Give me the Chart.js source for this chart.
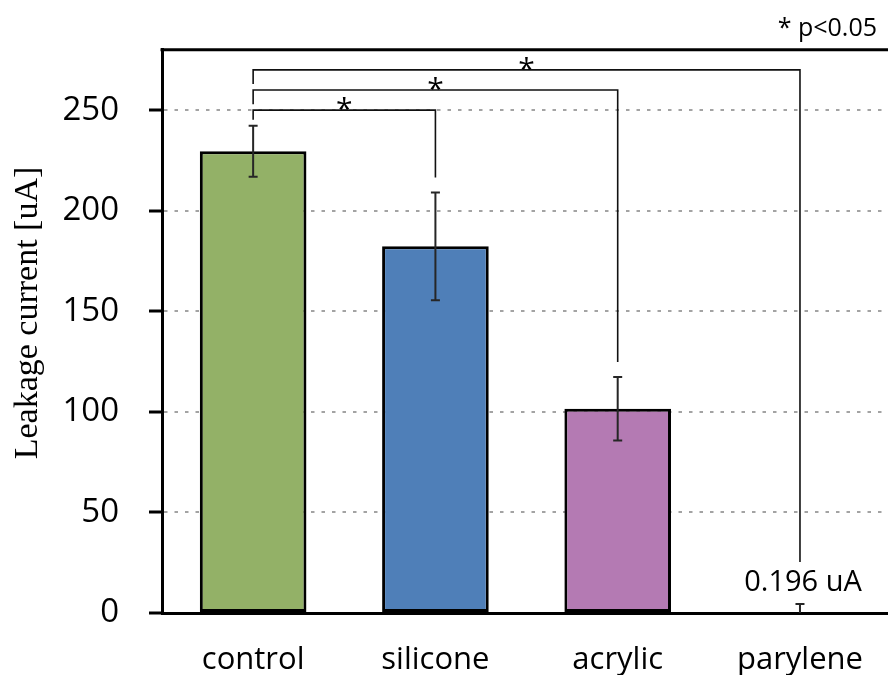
<!DOCTYPE html>
<html>
<head>
<meta charset="utf-8">
<script src="https://cdn.jsdelivr.net/npm/chart.js@4/dist/chart.umd.min.js"></script>
<style>
  html, body { margin: 0; padding: 0; overflow: hidden; background: #fff; }
  #wrap { width: 892px; height: 675px; }
</style>
</head>
<body>
<div id="wrap"><canvas id="c" width="892" height="675"></canvas></div>
<script>
// Leakage current per coating, mean and standard deviation [uA]
const categories = ['control', 'silicone', 'acrylic', 'parylene'];
const leakage = [229.6, 182.3, 101.5, 0.196];
const errors = [12.7, 26.8, 15.8, 4.3];
const barColors = ['#93b167', '#4f7fb8', '#b47ab3', '#9a9a9a'];
const yTicks = [0, 50, 100, 150, 200, 250];

// Significance comparisons (p<0.05): bar pairs and bracket level [uA]
const compFrom = [0, 0, 0];
const compTo = [1, 2, 3];
const compLevel = [250, 260, 270];

const noteIndex = 3;
const noteText = '0.196 uA';
const sigText = '* p<0.05';
const yTitle = 'Leakage current [uA]';

const SANS = '"Open Sans", "DejaVu Sans", sans-serif';
const SERIF = '"Liberation Serif", "DejaVu Serif", serif';

const overlay = {
  id: 'overlay',
  afterDatasetsDraw(chart) {
    const { ctx, chartArea: a, scales: { x, y } } = chart;
    ctx.save();

    // frame line along the top of the plot
    ctx.strokeStyle = '#000';
    ctx.lineWidth = 3;
    ctx.beginPath();
    ctx.moveTo(a.left - 1.5, a.top);
    ctx.lineTo(chart.width, a.top);
    ctx.stroke();

    // error bars
    const errTop = [];
    ctx.strokeStyle = '#262626';
    ctx.lineWidth = 2;
    leakage.forEach((v, i) => {
      const cx = x.getPixelForValue(i);
      const hi = y.getPixelForValue(v + errors[i]);
      const lowVal = v - errors[i];
      const lo = y.getPixelForValue(Math.max(0, lowVal));
      errTop.push(hi);
      ctx.beginPath();
      ctx.moveTo(cx, hi); ctx.lineTo(cx, lo);
      ctx.moveTo(cx - 4.5, hi); ctx.lineTo(cx + 4.5, hi);
      if (lowVal > 0) { ctx.moveTo(cx - 4.5, lo); ctx.lineTo(cx + 4.5, lo); }
      ctx.stroke();
    });

    // value note above the smallest bar
    const noteX = x.getPixelForValue(noteIndex) + 3;
    const noteBase = errTop[noteIndex] - 13;
    ctx.fillStyle = '#000';
    ctx.font = '29px ' + SANS;
    ctx.textAlign = 'center';
    ctx.textBaseline = 'alphabetic';
    ctx.fillText(noteText, noteX, noteBase);

    // significance brackets
    ctx.strokeStyle = '#111';
    ctx.lineWidth = 1.6;
    const levelsPx = compLevel.map(l => y.getPixelForValue(l));
    compLevel.forEach((lvl, k) => {
      const x1 = x.getPixelForValue(compFrom[k]);
      const x2 = x.getPixelForValue(compTo[k]);
      const yl = levelsPx[k];
      // left leg stops short of the bracket (or error bar) beneath it
      const lowerPx = levelsPx.filter(p => p > yl + 0.5);
      const obstacle = lowerPx.length ? Math.min(...lowerPx) : errTop[compFrom[k]];
      const leftEnd = obstacle - 6;
      const rightEnd = compTo[k] === noteIndex ? noteBase - 29 : errTop[compTo[k]] - 15;
      ctx.beginPath();
      ctx.moveTo(x1, leftEnd);
      ctx.lineTo(x1, yl);
      ctx.lineTo(x2, yl);
      ctx.lineTo(x2, rightEnd);
      ctx.stroke();
      ctx.font = '30px ' + SANS;
      ctx.textAlign = 'center';
      ctx.textBaseline = 'alphabetic';
      ctx.fillText('*', (x1 + x2) / 2, yl + 9);
    });

    // legend note for the asterisk
    ctx.font = '25px ' + SANS;
    ctx.textAlign = 'right';
    ctx.fillText(sigText, 877, 36);

    // y-axis title
    ctx.translate(28, 313);
    ctx.rotate(-Math.PI / 2);
    ctx.font = '34px ' + SERIF;
    ctx.textAlign = 'center';
    ctx.textBaseline = 'middle';
    ctx.fillText(yTitle, 0, 0);

    ctx.restore();
  }
};

new Chart(document.getElementById('c'), {
  type: 'bar',
  data: {
    labels: categories,
    datasets: [{
      data: leakage,
      backgroundColor: barColors,
      borderColor: '#000',
      borderWidth: 3,
      borderSkipped: false,
      categoryPercentage: 1,
      barPercentage: 0.585
    }]
  },
  options: {
    responsive: false,
    animation: false,
    devicePixelRatio: 1,
    layout: { padding: { top: 49, left: 0, right: 0, bottom: 0 } },
    plugins: { legend: { display: false }, tooltip: { enabled: false } },
    scales: {
      x: {
        grid: { display: false, drawTicks: false },
        border: { color: '#000', width: 3 },
        ticks: { color: '#000', font: { family: SANS, size: 31 }, padding: 29 },
        afterFit(s) { s.height = 62; }
      },
      y: {
        min: 0,
        max: 280,
        afterBuildTicks(s) { s.ticks = yTicks.map(v => ({ value: v })); },
        grid: {
          color: c => (c.tick && c.tick.value === 0) ? 'rgba(0,0,0,0)' : '#a3a3a3',
          lineWidth: 2,
          drawTicks: true,
          tickLength: 13,
          tickColor: '#000',
          tickWidth: 3,
          tickBorderDash: []
        },
        border: { color: '#000', width: 3, dash: [3.5, 7] },
        ticks: { color: '#000', font: { family: SANS, size: 33 }, padding: 30 },
        afterFit(s) { s.width = 162; }
      }
    }
  },
  plugins: [overlay]
});
</script>
</body>
</html>
